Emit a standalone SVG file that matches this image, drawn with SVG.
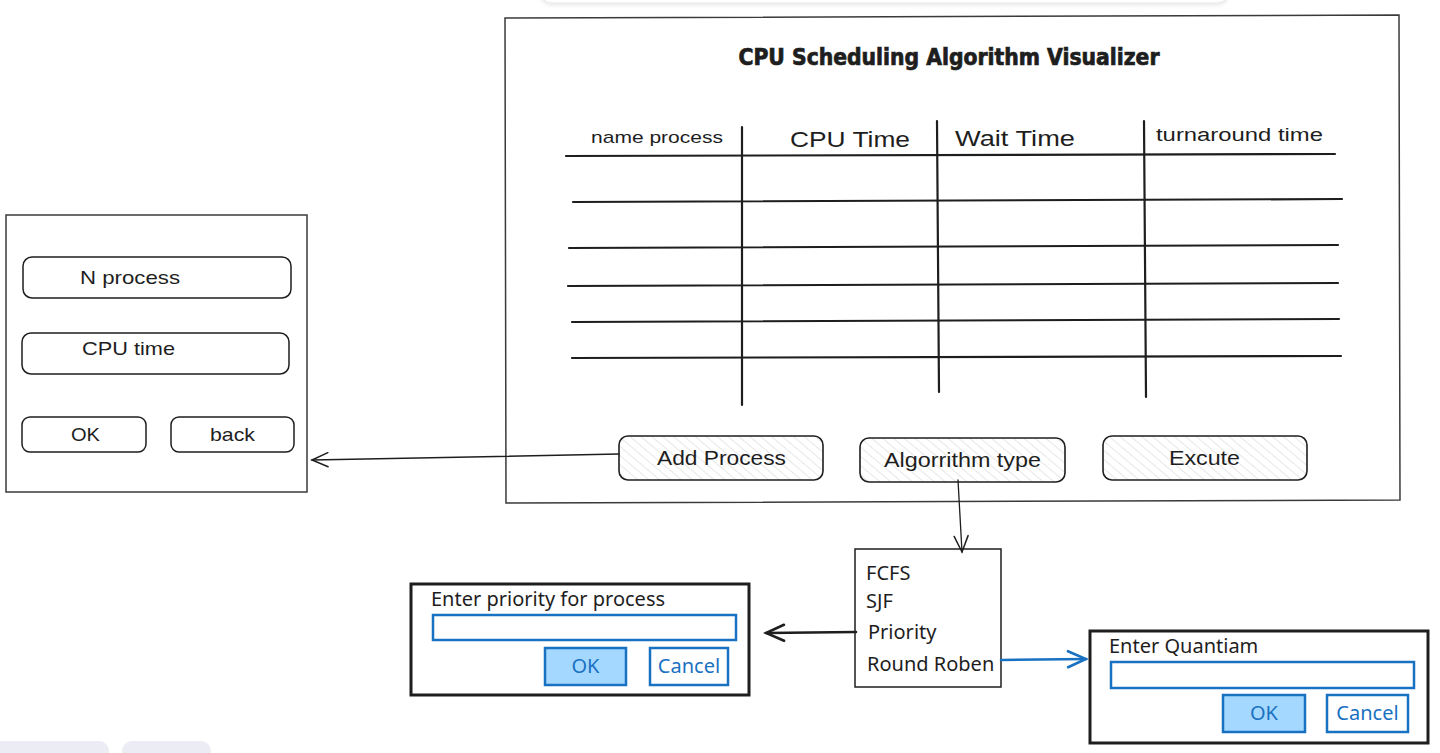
<svg xmlns="http://www.w3.org/2000/svg" width="1440" height="753" viewBox="0 0 1440 753">
<defs>
  <pattern id="hatch" patternUnits="userSpaceOnUse" width="7" height="7" patternTransform="rotate(-50)">
    <line x1="0" y1="0" x2="0" y2="7" stroke="#cfcfcf" stroke-width="1"/>
  </pattern>
  <marker id="arrBlack" viewBox="0 0 20 20" refX="18" refY="10" markerWidth="20" markerHeight="20" markerUnits="userSpaceOnUse" orient="auto">
    <path d="M2,3 L18,10 L2,17" fill="none" stroke="#1e1e1e" stroke-width="1.5" stroke-linecap="round"/>
  </marker>
  <marker id="arrBlackBold" viewBox="0 0 24 24" refX="21" refY="12" markerWidth="24" markerHeight="24" markerUnits="userSpaceOnUse" orient="auto">
    <path d="M3,4 L21,12 L3,20" fill="none" stroke="#1e1e1e" stroke-width="2.6" stroke-linecap="round"/>
  </marker>
  <marker id="arrBlue" viewBox="0 0 24 24" refX="21" refY="12" markerWidth="24" markerHeight="24" markerUnits="userSpaceOnUse" orient="auto">
    <path d="M3,4 L21,12 L3,20" fill="none" stroke="#1971c2" stroke-width="2.6" stroke-linecap="round"/>
  </marker>
  <filter id="sh" x="-5%" y="-50%" width="110%" height="200%">
    <feDropShadow dx="0" dy="1" stdDeviation="2" flood-color="#000" flood-opacity="0.12"/>
  </filter>
</defs>
<style>
  .frame { fill: #ffffff; stroke: #3a3a3a; stroke-width: 1.5; }
  .rule { stroke: #1e1e1e; stroke-width: 2.2; fill: none; stroke-linecap: round; }
  .btn { fill: url(#hatch); stroke: #1e1e1e; stroke-width: 1.6; }
  .box { fill: #ffffff; stroke: #1e1e1e; stroke-width: 1.5; }
  .hand { font-family: "Liberation Sans", "Noto Sans", sans-serif; fill: #1e1e1e; }
  .ui { font-family: "Noto Sans", "Open Sans", sans-serif; fill: #1e1e1e; font-size: 20px; }
  .dlg { fill: #ffffff; stroke: #1e1e1e; stroke-width: 3; }
  .inp { fill: #ffffff; stroke: #1971c2; stroke-width: 2.5; }
  .okb { fill: #a5d8ff; stroke: #1971c2; stroke-width: 2.5; }
  .cnb { fill: #ffffff; stroke: #1971c2; stroke-width: 2.5; }
  .btxt { font-family: "Noto Sans", "Open Sans", sans-serif; fill: #1971c2; font-size: 20px; text-anchor: middle; }
  .conn { fill: none; stroke-linecap: round; }
  .chrome { fill: #ececf4; }
</style>

<!-- UI chrome pieces from the screenshot -->
<rect x="541" y="-30" width="687" height="33" rx="10" fill="#ffffff" stroke="#e6e6e6" filter="url(#sh)"/>
<rect class="chrome" x="-10" y="741" width="119" height="30" rx="10"/>
<rect class="chrome" x="122" y="741" width="89" height="30" rx="10"/>

<!-- Main window -->
<g id="main-window">
  <path class="frame" d="M505,18 L1399,15 L1400,500 L506,503 Z"/>
  <text x="949" y="65" text-anchor="middle" font-family="DejaVu Sans Condensed, Liberation Sans Narrow, Liberation Sans, sans-serif" font-weight="bold" font-size="23" fill="#1e1e1e" stroke="#1e1e1e" stroke-width="0.7" textLength="421" lengthAdjust="spacingAndGlyphs">CPU Scheduling Algorithm Visualizer</text>
</g>

<g id="table">
  <text class="hand" x="591" y="143" font-size="17" textLength="132" lengthAdjust="spacingAndGlyphs">name process</text>
  <text class="hand" x="790" y="147" font-size="22" textLength="120" lengthAdjust="spacingAndGlyphs">CPU Time</text>
  <text class="hand" x="955" y="146" font-size="22" textLength="120" lengthAdjust="spacingAndGlyphs">Wait Time</text>
  <text class="hand" x="1156" y="141" font-size="18" textLength="167" lengthAdjust="spacingAndGlyphs">turnaround time</text>
  <path class="rule" d="M566,156 L1335,154"/>
  <path class="rule" d="M573,202 L1342,199"/>
  <path class="rule" d="M569,248 L1338,245"/>
  <path class="rule" d="M568,286 L1338,283"/>
  <path class="rule" d="M572,322 L1339,319"/>
  <path class="rule" d="M572,358 L1341,356"/>
  <path class="rule" d="M742,127 L742,405"/>
  <path class="rule" d="M937,121 L939,392"/>
  <path class="rule" d="M1144,121 L1146,397"/>
</g>

<g id="btn-add-process">
  <rect class="btn" x="619" y="436" width="204" height="44" rx="9"/>
  <text class="hand" x="657" y="465" font-size="20" textLength="129" lengthAdjust="spacingAndGlyphs">Add Process</text>
</g>
<g id="btn-algorithm-type">
  <rect class="btn" x="860" y="438" width="205" height="44" rx="9"/>
  <text class="hand" x="884" y="467" font-size="20" textLength="157" lengthAdjust="spacingAndGlyphs">Algorrithm type</text>
</g>
<g id="btn-excute">
  <rect class="btn" x="1103" y="436" width="204" height="44" rx="9"/>
  <text class="hand" x="1169" y="465" font-size="20" textLength="71" lengthAdjust="spacingAndGlyphs">Excute</text>
</g>

<!-- Left panel -->
<g id="add-process-panel">
  <rect x="6" y="215" width="301" height="277" fill="#ffffff" stroke="#3a3a3a" stroke-width="1.5"/>
  <rect class="box" x="23" y="257" width="268" height="41" rx="9"/>
  <text class="hand" x="80" y="284" font-size="19" textLength="100" lengthAdjust="spacingAndGlyphs">N process</text>
  <rect class="box" x="22" y="333" width="267" height="41" rx="9"/>
  <text class="hand" x="82" y="355" font-size="19" textLength="93" lengthAdjust="spacingAndGlyphs">CPU time</text>
  <rect class="box" x="22" y="417" width="124" height="35" rx="8"/>
  <text class="hand" x="71" y="441" font-size="19" textLength="29" lengthAdjust="spacingAndGlyphs">OK</text>
  <rect class="box" x="171" y="417" width="123" height="35" rx="8"/>
  <text class="hand" x="210" y="441" font-size="19" textLength="45" lengthAdjust="spacingAndGlyphs">back</text>
</g>

<!-- Algorithm options -->
<g id="algorithm-options">
  <rect x="855" y="549" width="146" height="138" fill="#ffffff" stroke="#1e1e1e" stroke-width="1.5"/>
  <text class="ui" x="866" y="580">FCFS</text>
  <text class="ui" x="866" y="608">SJF</text>
  <text class="ui" x="868" y="639">Priority</text>
  <text class="ui" x="867" y="671">Round Roben</text>
</g>

<!-- Priority dialog -->
<g id="priority-dialog">
  <rect class="dlg" x="411" y="584" width="338" height="111"/>
  <text class="ui" x="431" y="606">Enter priority for process</text>
  <rect class="inp" x="433" y="615" width="303" height="25"/>
  <rect class="okb" x="545" y="648" width="81" height="37"/>
  <text class="btxt" x="585.5" y="673">OK</text>
  <rect class="cnb" x="650" y="648" width="78" height="37"/>
  <text class="btxt" x="689" y="673">Cancel</text>
</g>

<!-- Quantum dialog -->
<g id="quantum-dialog">
  <rect class="dlg" x="1090" y="631" width="338" height="112"/>
  <text class="ui" x="1109" y="653">Enter Quantiam</text>
  <rect class="inp" x="1111" y="662" width="303" height="26"/>
  <rect class="okb" x="1223" y="695" width="82" height="37"/>
  <text class="btxt" x="1264" y="720">OK</text>
  <rect class="cnb" x="1327" y="695" width="81" height="37"/>
  <text class="btxt" x="1367.5" y="720">Cancel</text>
</g>

<!-- Connectors -->
<g id="connectors">
  <path class="conn" d="M619,454 L312,460" stroke="#1e1e1e" stroke-width="1.5" marker-end="url(#arrBlack)"/>
  <path class="conn" d="M958,480 L962,552" stroke="#1e1e1e" stroke-width="1.3" marker-end="url(#arrBlack)"/>
  <path class="conn" d="M856,632 L766,633" stroke="#1e1e1e" stroke-width="2.6" marker-end="url(#arrBlackBold)"/>
  <path class="conn" d="M1001,660 L1086,659" stroke="#1971c2" stroke-width="2.6" marker-end="url(#arrBlue)"/>
</g>
</svg>
